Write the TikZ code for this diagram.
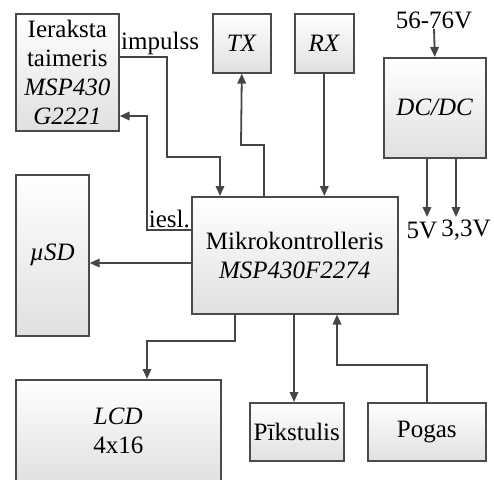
\documentclass[tikz,border=0pt]{standalone}
\usepackage{fontspec}
\setmainfont{Liberation Serif}
\usepackage{tikz}
\usetikzlibrary{arrows.meta}
\definecolor{linegray}{HTML}{454545}
\definecolor{boxline}{HTML}{4A4A4A}
\definecolor{boxbot}{HTML}{E0E0E0}

\begin{document}
\begin{tikzpicture}[x=1pt, y=-1pt,
  font=\fontsize{25}{29}\selectfont,
  B/.style={draw=boxline, line width=1.6pt, top color=white, bottom color=boxbot,
    anchor=north west, inner sep=0pt, align=center},
  arr/.style={-{Triangle[length=10pt, width=8.5pt]}, linegray, line width=1.8pt},
  lbl/.style={inner sep=0pt}
]
  \clip (0,0) rectangle (494,479);
  \node[B, minimum width=103pt, minimum height=117pt] (ier) at (15,13) {Ieraksta\\taimeris\\\textit{MSP430}\\\textit{G2221}};
  \node[B, minimum width=58pt, minimum height=59pt] (tx) at (212,13) {\textit{TX}};
  \node[B, minimum width=59pt, minimum height=59pt] (rx) at (294,13) {\textit{RX}};
  \node[B, minimum width=102pt, minimum height=100pt] (dc) at (383,57) {\textit{DC/DC}};
  \node[B, minimum width=206pt, minimum height=117pt] (mk) at (191,196) {Mikrokontrolleris\\\textit{MSP430F2274}};
  \node[B, minimum width=73pt, minimum height=161pt] (sd) at (15,174) {\textit{µSD}};
  \node[B, minimum width=205pt, minimum height=103pt] (lcd) at (15,379) {\textit{LCD}\\4x16};
  \node[B, minimum width=94pt, minimum height=58pt] (pik) at (249,402) {Pīkstulis};
  \node[B, minimum width=118pt, minimum height=58pt] (pog) at (367,402) {Pogas};
  \node[lbl] (vin) at (434,20) {56-76V};
  \node[lbl] (v5) at (422,230) {5V};
  \node[lbl] (v33) at (466,230) {3,3V};
  \node[lbl, anchor=base west] (imp) at (121,49) {impulss};
  \node[lbl, anchor=base east] (iesl) at (190,227) {iesl.};
  \coordinate (o5) at (427,217);
  \coordinate (o33) at (456,217);
  % connectors
  \draw[arr] (ier.east |- 0,57) -| (167,157) -| (mk.north -| 220,0);
  \draw[arr] (mk.west |- 0,230) -| (147,116) -- (ier.east |- 0,116);
  \draw[arr] (mk.north -| 264,0) |- (241,145) -- (tx.south);
  \draw[arr] (rx.south) -- (rx.south |- mk.north);
  \draw[arr] (mk.west |- 0,263) -- (sd.east |- 0,263);
  \draw[arr] (mk.south -| 235,0) |- (147,341) -- (lcd.north -| 147,0);
  \draw[arr] (mk.south -| 294,0) -- (pik.north -| 294,0);
  \draw[arr] (pog.north) |- (337,365) -- (mk.south -| 337,0);
  \draw[arr] (vin.south) -- (dc.north);
  \draw[arr] (dc.south -| o5) -- (o5);
  \draw[arr] (dc.south -| o33) -- (o33);
\end{tikzpicture}
\end{document}
